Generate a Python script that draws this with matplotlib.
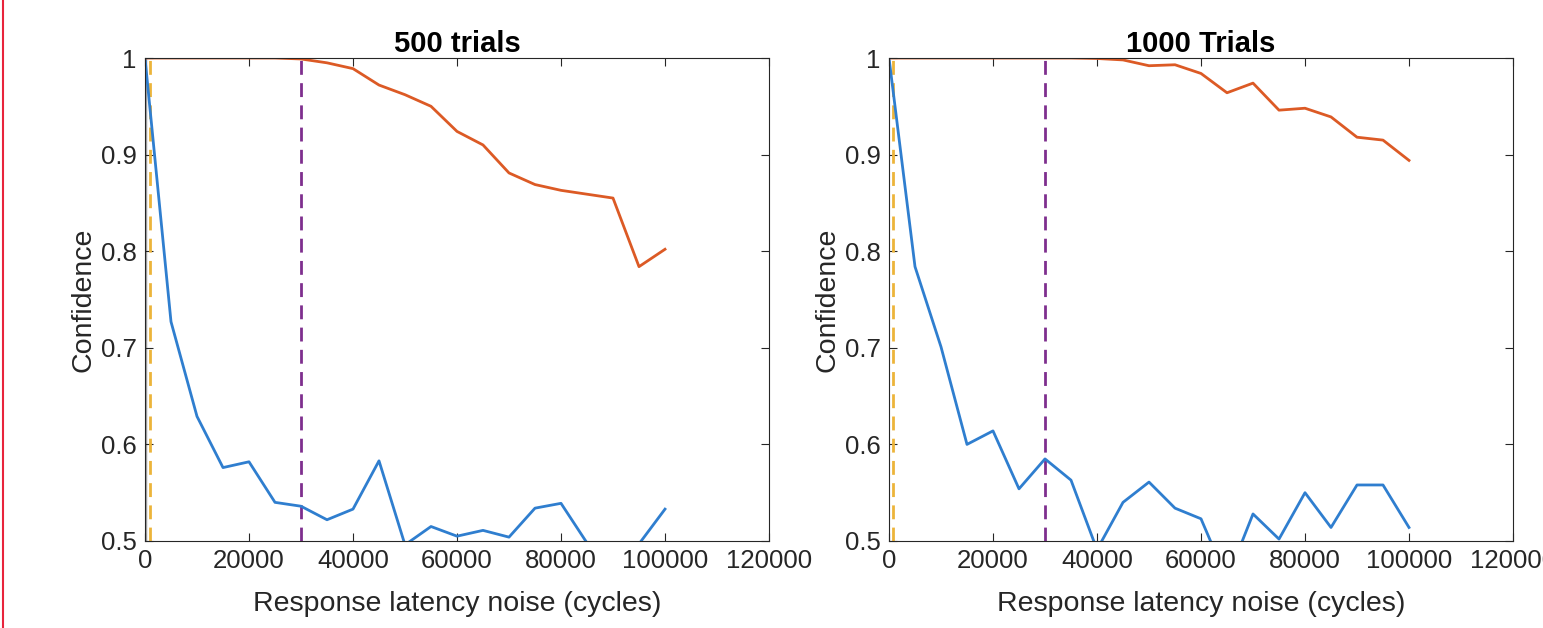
import matplotlib.pyplot as plt
import numpy as np
from matplotlib.lines import Line2D

plt.rcParams['font.family'] = ['Liberation Sans', 'DejaVu Sans']

noise = np.arange(0, 100001, 5000)

# 500 trials
blue_500 = [1.0, 0.727, 0.629, 0.576, 0.582, 0.540, 0.536, 0.522, 0.533, 0.583, 0.496,
            0.515, 0.505, 0.511, 0.504, 0.534, 0.539, 0.498, 0.47, 0.497, 0.533]
orange_500 = [1.0, 1.0, 1.0, 1.0, 1.0, 1.0, 0.999, 0.995, 0.989, 0.972, 0.962,
              0.950, 0.924, 0.910, 0.881, 0.869, 0.863, 0.859, 0.855, 0.784, 0.802]

# 1000 trials
blue_1000 = [1.0, 0.784, 0.701, 0.600, 0.614, 0.554, 0.585, 0.563, 0.491, 0.540, 0.561,
             0.534, 0.523, 0.46, 0.528, 0.502, 0.550, 0.514, 0.558, 0.558, 0.514]
orange_1000 = [1.0, 1.0, 1.0, 1.0, 1.0, 1.0, 1.0, 1.0, 0.9995, 0.998, 0.992,
               0.993, 0.984, 0.964, 0.974, 0.946, 0.948, 0.939, 0.918, 0.915, 0.894]

titles = ['500 trials', '1000 Trials']
yellow_x = [1000, 700]
purple_x = [30000, 30000]

xticks = np.arange(0, 120001, 20000)
yticks = [0.5, 0.6, 0.7, 0.8, 0.9, 1.0]
ytick_labels = ['0.5', '0.6', '0.7', '0.8', '0.9', '1']

c_blue = '#2f7ecf'
c_orange = '#dc5a25'
c_yellow = '#ecb43a'
c_purple = '#7e2f8e'
c_text = '#262626'

fig = plt.figure(figsize=(15.43, 6.28), dpi=100)
ax1 = fig.add_axes([145 / 1543, 1 - 541 / 628, 624 / 1543, 483 / 628])
ax2 = fig.add_axes([889 / 1543, 1 - 541 / 628, 624 / 1543, 483 / 628])

series = [(blue_500, orange_500), (blue_1000, orange_1000)]

for i, ax in enumerate([ax1, ax2]):
    b, o = series[i]
    if i == 0:
        # grey line sitting on the y axis in the left panel
        ax.plot([0, 0], [1.0, 0.4], color='#a3a3a3', lw=2.5, zorder=1)
    ax.axvline(yellow_x[i], color=c_yellow, lw=2, dashes=(5, 3))
    ax.axvline(purple_x[i], color=c_purple, lw=2, dashes=(5, 3))
    ax.plot(noise, b, color=c_blue, lw=2)
    ax.plot(noise, o, color=c_orange, lw=2)

    ax.set_xlim(0, 120000)
    ax.set_ylim(0.5, 1.0)
    ax.set_xticks(xticks)
    ax.set_xticklabels([str(t) for t in xticks])
    ax.set_yticks(yticks)
    ax.set_yticklabels(ytick_labels)
    ax.tick_params(direction='in', length=6, width=0.8, top=True, right=True,
                   labelsize=18.5, colors=c_text, pad=6)
    for s in ax.spines.values():
        s.set_color(c_text)
        s.set_linewidth(0.8)
    ax.set_title(titles[i], fontsize=21, fontweight='bold', pad=4)
    ax.set_xlabel('Response latency noise (cycles)', fontsize=20.5, color=c_text, labelpad=13)
    ax.set_ylabel('Confidence', fontsize=20.5, color=c_text, labelpad=3)

# red border of the screenshot on the left edge
fig.add_artist(Line2D([3 / 1543, 3 / 1543], [0, 1], color='#e8243c', lw=1.5))

fig.savefig('out.png', dpi=100)
